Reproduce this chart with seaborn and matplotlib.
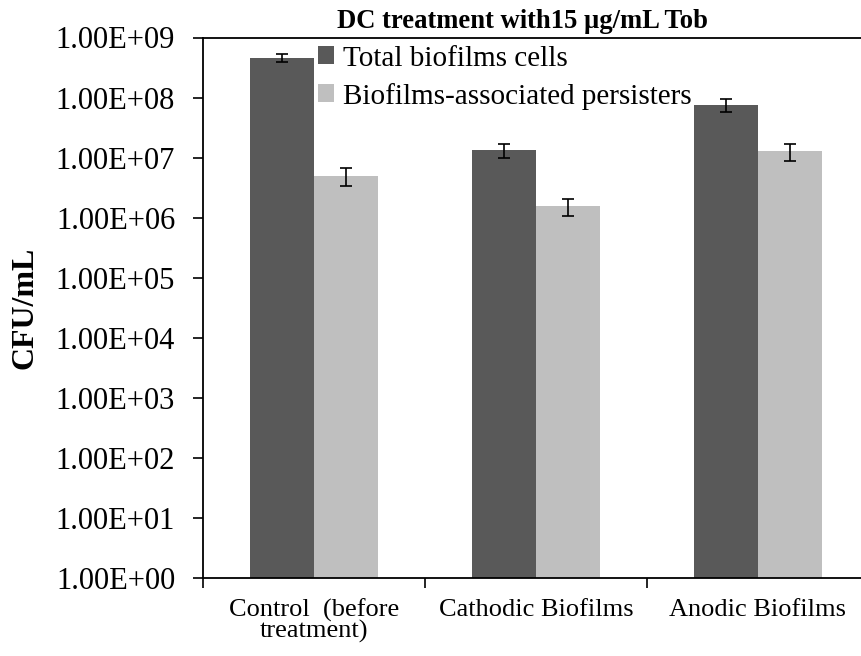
import matplotlib
matplotlib.use("Agg")
import matplotlib.pyplot as plt
import matplotlib.ticker as mticker
import seaborn as sns
import pandas as pd

# Data
conditions = ["Control  (before\ntreatment)", "Cathodic Biofilms", "Anodic Biofilms"]
series = ["Total biofilms cells", "Biofilms-associated persisters"]
total_cells = [4.6e8, 1.34e7, 7.55e7]
total_err = [0.7e8, 3.6e6, 1.85e7]
persisters = [5.0e6, 1.58e6, 1.27e7]
persisters_err = [1.6e6, 0.5e6, 4.0e6]
ytick_values = [1e0, 1e1, 1e2, 1e3, 1e4, 1e5, 1e6, 1e7, 1e8, 1e9]

df = pd.DataFrame({
    "condition": conditions * 2,
    "series": [series[0]] * 3 + [series[1]] * 3,
    "cfu": total_cells + persisters,
    "err": total_err + persisters_err,
})

sns.set_style("white")
plt.rcParams["font.family"] = ["Liberation Serif", "DejaVu Serif"]
plt.rcParams.update({
    "text.color": "black",
    "axes.labelcolor": "black",
    "xtick.color": "black",
    "ytick.color": "black",
    "axes.edgecolor": "black",
})

fig = plt.figure(figsize=(8.61, 6.56), dpi=100)
ax = fig.add_axes([203 / 861, 78 / 656, 666 / 861, 540.5 / 656])

palette = {series[0]: "#595959", series[1]: "#bfbfbf"}
sns.barplot(data=df, x="condition", y="cfu", hue="series", order=conditions,
            hue_order=series, palette=palette, width=0.573, errorbar=None,
            saturation=1, edgecolor="none", linewidth=0, ax=ax)

ax.set_yscale("log")
ax.set_ylim(1, 1e9)
ax.set_xlim(-0.5, 2.5)

# Error bars at each bar's centre
bars = [p for p in ax.patches if p.get_height() > 0]
bars = sorted(bars, key=lambda p: p.get_x())
vals = {}
for s, v, e in zip(df["series"], df["cfu"], df["err"]):
    vals.setdefault(s, []).append((v, e))
order = []
for i in range(3):
    order.append(vals[series[0]][i])
    order.append(vals[series[1]][i])
for p, (v, e) in zip(bars, order):
    cx = p.get_x() + p.get_width() / 2
    ax.errorbar(cx, v, yerr=e, fmt="none", ecolor="black",
                elinewidth=1.2, capsize=4, capthick=1.2, zorder=5)

# Axes styling
for side in ["left", "bottom", "top"]:
    ax.spines[side].set_visible(True)
    ax.spines[side].set_color("black")
    ax.spines[side].set_linewidth(1.3)
ax.spines["right"].set_visible(False)

ax.yaxis.set_major_locator(mticker.FixedLocator(ytick_values))
ax.yaxis.set_minor_locator(mticker.NullLocator())
ax.yaxis.set_major_formatter(mticker.FuncFormatter(lambda v, pos: f"{v:.2E}"))
ax.tick_params(axis="y", which="major", direction="out", length=7, width=1.2,
               left=True, labelsize=22, pad=13, colors="black")

ax.set_xticks([0, 1, 2])
ax.set_xticklabels(conditions, fontsize=19, linespacing=0.85)
ax.xaxis.set_minor_locator(mticker.FixedLocator([-0.5, 0.5, 1.5, 2.5]))
ax.tick_params(axis="x", which="major", length=0, pad=15, colors="black")
ax.tick_params(axis="x", which="minor", direction="out", length=7, width=1.2,
               bottom=True, colors="black")
ax.set_xlabel("")

ax.set_ylabel("CFU/mL", fontsize=23, fontweight="bold", color="black")
ax.yaxis.set_label_coords(-0.245, 0.5)

fig.text(522.5 / 861, 1 - 28 / 656, "DC treatment with15 µg/mL Tob",
         ha="center", va="baseline", fontsize=19.2, fontweight="bold",
         color="black")

leg = ax.legend(loc="upper left", bbox_to_anchor=((318 - 203) / 666, 1 - 8 / 540.5),
                frameon=False, fontsize=21, handlelength=0.55, handleheight=0.55,
                handletextpad=0.3, labelspacing=0.38, borderpad=0, borderaxespad=0)
for t in leg.get_texts():
    t.set_color("black")

fig.savefig("out.png", dpi=100)
